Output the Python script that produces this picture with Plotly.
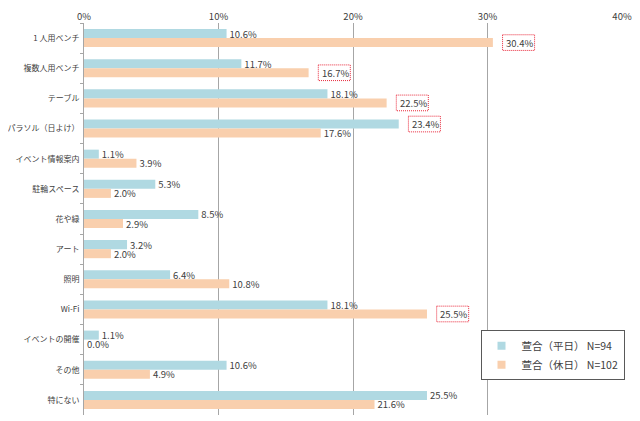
import plotly.graph_objects as go

categories = ["1 人用ベンチ", "複数人用ベンチ", "テーブル", "パラソル（日よけ）", "イベント情報案内",
              "駐輪スペース", "花や緑", "アート", "照明", "Wi-Fi", "イベントの開催", "その他", "特にない"]
weekday = [10.6, 11.7, 18.1, 23.4, 1.1, 5.3, 8.5, 3.2, 6.4, 18.1, 1.1, 10.6, 25.5]
holiday = [30.4, 16.7, 22.5, 17.6, 3.9, 2.0, 2.9, 2.0, 10.8, 25.5, 0.0, 4.9, 21.6]
series_names = ["萱合（平日） N=94", "萱合（休日） N=102"]
# highlighted labels: (series index, category index)
highlights = [(1, 0), (1, 1), (1, 2), (0, 3), (1, 9)]

blue = "#B0D9E2"
orange = "#F9CFAD"
font_family = "Noto Sans CJK JP, Meiryo, sans-serif"
label_font = dict(size=9.5, color="#404040", family=font_family)

series_vals = [weekday, holiday]
offsets = [-0.15, 0.15]

fig = go.Figure()
for s, (name, vals, col) in enumerate([(series_names[0], weekday, blue), (series_names[1], holiday, orange)]):
    texts = ["" if (s, i) in highlights else f"{v:.1f}%" for i, v in enumerate(vals)]
    fig.add_trace(go.Bar(
        y=categories, x=vals, orientation="h", name=name, showlegend=False,
        marker=dict(color=col, line=dict(width=0)),
        text=texts, textposition="outside",
        constraintext="none",
        textfont=label_font,
        cliponaxis=False,
    ))
    # legend proxies with small square symbols
    fig.add_trace(go.Scatter(
        x=[None], y=[None], mode="markers", name=name,
        marker=dict(symbol="square", size=8, color=col), showlegend=True,
    ))

for s, c in highlights:
    v = series_vals[s][c]
    fig.add_annotation(x=v, y=c + offsets[s], xref="x", yref="y",
                       text=f"{v:.1f}%", showarrow=False, xanchor="left",
                       xshift=11, font=label_font)
    fig.add_shape(type="rect", xref="x", yref="y",
                  x0=v + 0.72, x1=v + 3.1,
                  y0=c + offsets[s] - 0.26, y1=c + offsets[s] + 0.26,
                  line=dict(color="#E8283A", width=1, dash="1px,1px"))

fig.update_layout(
    width=632, height=413,
    margin=dict(l=76, r=18, t=15, b=6),
    paper_bgcolor="white", plot_bgcolor="white",
    barmode="group", bargap=0.4, bargroupgap=0,
    font=dict(family=font_family, size=10, color="#404040"),
    legend=dict(x=0.737, y=0.216, xanchor="left", yanchor="top",
                bordercolor="#595959", borderwidth=1, bgcolor="white",
                font=dict(size=10.5, color="#404040"),
                itemwidth=30),
    showlegend=True,
)
fig.update_xaxes(side="top", range=[0, 40], dtick=10, ticksuffix="%",
                 showgrid=True, gridcolor="#A6A6A6", gridwidth=1,
                 zeroline=False, showline=False, automargin=False,
                 ticklabelstandoff=0,
                 tickfont=dict(size=9.5, color="#404040"), ticks="")
fig.update_yaxes(autorange="reversed", showline=True, linecolor="#A6A6A6", linewidth=1,
                 ticks="outside", tickson="boundaries", ticklen=3, tickcolor="#A6A6A6",
                 automargin=False, ticklabelstandoff=2,
                 tickfont=dict(size=8, color="#404040"), showgrid=False)

fig.write_html("out.html")
